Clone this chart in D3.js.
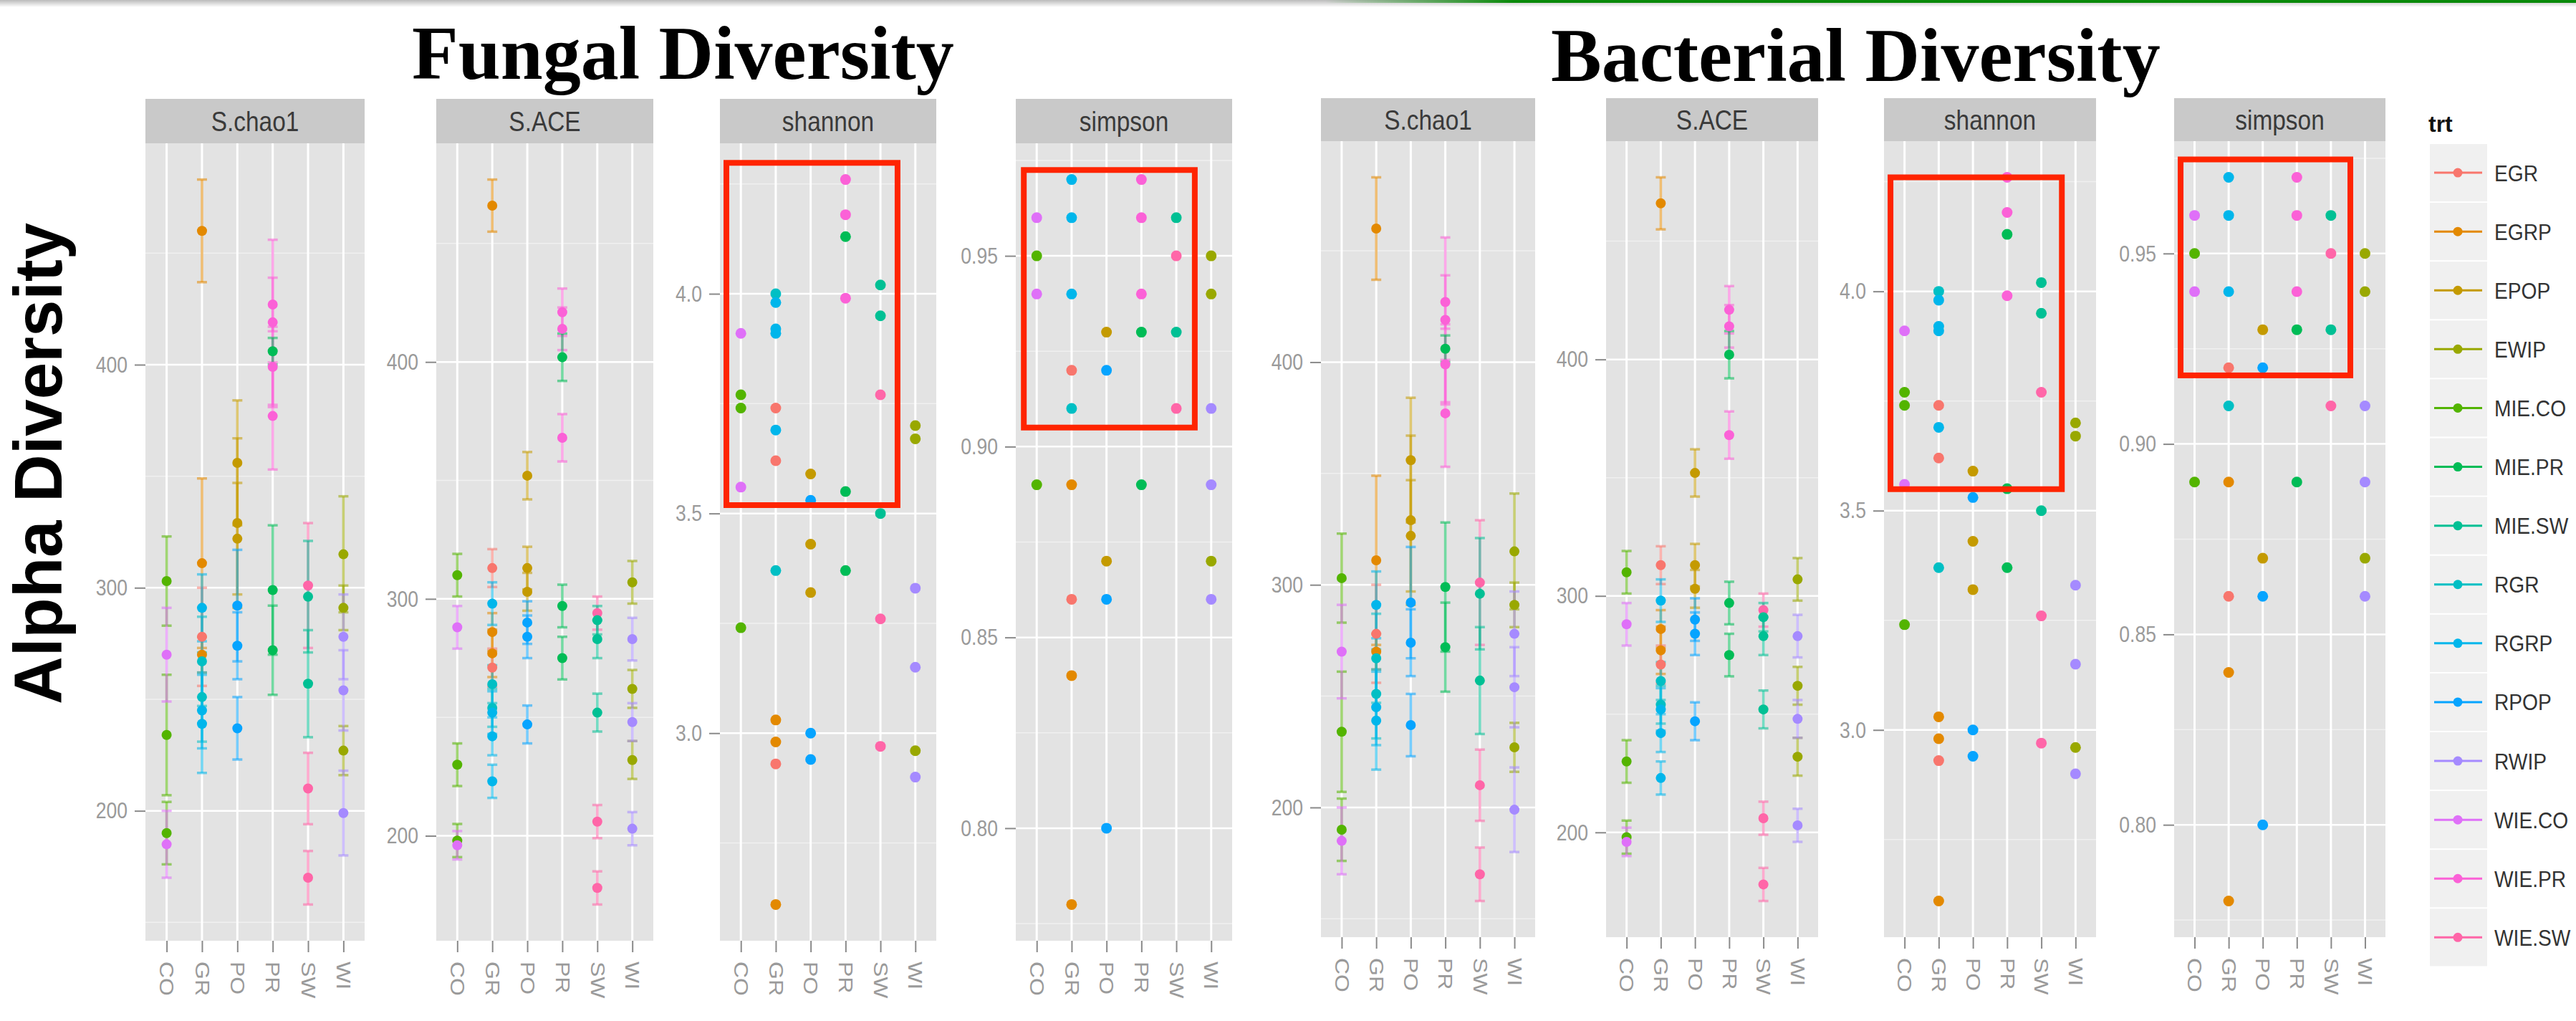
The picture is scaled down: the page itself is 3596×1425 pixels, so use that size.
<!DOCTYPE html>
<html><head><meta charset="utf-8">
<script src="https://cdn.jsdelivr.net/npm/d3@7"></script>
<style>body{margin:0;background:#fff}svg{display:block}</style>
</head><body>
<svg id="c" width="3596" height="1425"></svg>
<script>
// ---------------- DATA ----------------
const sites = ["CO","GR","PO","PR","SW","WI"];
const treatments = ["EGR","EGRP","EPOP","EWIP","MIE.CO","MIE.PR","MIE.SW","RGR","RGRP","RPOP","RWIP","WIE.CO","WIE.PR","WIE.SW"];
const trtColors = ["#F8766D","#E38900","#C49A00","#99A800","#53B400","#00BC56","#00C094","#00BFC4","#00B6EB","#06A4FF","#A58AFF","#DF70F8","#FB61D7","#FF66A8"];
const metrics = ["S.chao1","S.ACE","shannon","simpson"];

// [site, treatment, mean, error]
const chao1 = [
  ["CO","MIE.CO",303,20],["CO","MIE.CO",234,27],["CO","MIE.CO",190,14],
  ["CO","WIE.CO",270,21],["CO","WIE.CO",185,15],
  ["GR","EGRP",460,23],["GR","EGRP",311,38],["GR","EGRP",270,8],
  ["GR","EGR",278,22],
  ["GR","RGR",267,20],["GR","RGR",251,20],
  ["GR","RGRP",291,15],["GR","RGRP",245,17],["GR","RGRP",239,22],
  ["PO","EPOP",356,28],["PO","EPOP",329,38],["PO","EPOP",322,25],
  ["PO","RPOP",292,25],["PO","RPOP",274,15],["PO","RPOP",237,14],
  ["PR","WIE.PR",427,12],["PR","WIE.PR",419,37],["PR","WIE.PR",399,18],["PR","WIE.PR",377,24],
  ["PR","MIE.PR",406,6],["PR","MIE.PR",299,29],["PR","MIE.PR",272,20],
  ["SW","WIE.SW",301,28],["SW","WIE.SW",210,16],["SW","WIE.SW",170,12],
  ["SW","MIE.SW",296,25],["SW","MIE.SW",257,24],
  ["WI","EWIP",315,26],["WI","EWIP",291,10],["WI","EWIP",227,11],
  ["WI","RWIP",278,19],["WI","RWIP",254,18],["WI","RWIP",199,19]
];
const ace = [
  ["CO","MIE.CO",310,9],["CO","MIE.CO",230,9],["CO","MIE.CO",198,7],
  ["CO","WIE.CO",288,9],["CO","WIE.CO",196,6],
  ["GR","EGRP",466,11],["GR","EGRP",286,8],["GR","EGRP",277,10],
  ["GR","EGR",313,8],["GR","EGR",271,8],
  ["GR","RGR",264,8],["GR","RGR",254,8],
  ["GR","RGRP",298,9],["GR","RGRP",252,9],["GR","RGRP",242,8],["GR","RGRP",223,7],
  ["PO","EPOP",352,10],["PO","EPOP",313,9],["PO","EPOP",303,8],
  ["PO","RPOP",290,9],["PO","RPOP",284,9],["PO","RPOP",247,8],
  ["PR","WIE.PR",421,10],["PR","WIE.PR",414,9],["PR","WIE.PR",368,10],
  ["PR","MIE.PR",402,10],["PR","MIE.PR",297,9],["PR","MIE.PR",275,9],
  ["SW","WIE.SW",294,7],["SW","WIE.SW",206,7],["SW","WIE.SW",178,7],
  ["SW","MIE.SW",291,6],["SW","MIE.SW",283,8],["SW","MIE.SW",252,8],
  ["WI","EWIP",307,9],["WI","EWIP",262,8],["WI","EWIP",232,8],
  ["WI","RWIP",283,9],["WI","RWIP",248,8],["WI","RWIP",203,7]
];
// [site, treatment, value]
const shannon = [
  ["CO","WIE.CO",3.91],["CO","MIE.CO",3.77],["CO","MIE.CO",3.74],["CO","WIE.CO",3.56],["CO","MIE.CO",3.24],
  ["GR","RGR",4.00],["GR","RGRP",3.98],["GR","RGRP",3.92],["GR","RGRP",3.91],["GR","EGR",3.74],["GR","RGRP",3.69],
  ["GR","EGR",3.62],["GR","RGR",3.37],["GR","EGRP",3.03],["GR","EGRP",2.98],["GR","EGR",2.93],["GR","EGRP",2.61],
  ["PO","EPOP",3.59],["PO","RPOP",3.53],["PO","EPOP",3.43],["PO","EPOP",3.32],["PO","RPOP",3.00],["PO","RPOP",2.94],
  ["PR","WIE.PR",4.26],["PR","WIE.PR",4.18],["PR","MIE.PR",4.13],["PR","WIE.PR",3.99],["PR","MIE.PR",3.55],["PR","MIE.PR",3.37],
  ["SW","MIE.SW",4.02],["SW","MIE.SW",3.95],["SW","WIE.SW",3.77],["SW","MIE.SW",3.50],["SW","WIE.SW",3.26],["SW","WIE.SW",2.97],
  ["WI","EWIP",3.70],["WI","EWIP",3.67],["WI","RWIP",3.33],["WI","RWIP",3.15],["WI","EWIP",2.96],["WI","RWIP",2.90]
];
const simpson = [
  ["CO","WIE.CO",0.96],["CO","MIE.CO",0.95],["CO","WIE.CO",0.94],["CO","MIE.CO",0.89],
  ["GR","RGRP",0.97],["GR","RGRP",0.96],["GR","RGRP",0.94],["GR","EGR",0.92],["GR","RGR",0.91],
  ["GR","EGRP",0.89],["GR","EGR",0.86],["GR","EGRP",0.84],["GR","EGRP",0.78],
  ["PO","EPOP",0.93],["PO","RPOP",0.92],["PO","EPOP",0.87],["PO","RPOP",0.86],["PO","RPOP",0.80],
  ["PR","WIE.PR",0.97],["PR","WIE.PR",0.96],["PR","WIE.PR",0.94],["PR","MIE.PR",0.93],["PR","MIE.PR",0.89],
  ["SW","MIE.SW",0.96],["SW","WIE.SW",0.95],["SW","MIE.SW",0.93],["SW","WIE.SW",0.91],
  ["WI","EWIP",0.95],["WI","EWIP",0.94],["WI","RWIP",0.91],["WI","RWIP",0.89],["WI","EWIP",0.87],["WI","RWIP",0.86]
];
const chao1Ticks = [200,300,400];
const aceTicks = [200,300,400];
const shannonTicks = [3.0,3.5,4.0];
const simpsonTicks = [0.80,0.85,0.90,0.95];

// highlight boxes: [panel index, site-index from, site-index to, value from, value to]
const fungalBoxes = [[2,-0.415,4.49,3.519,4.298],[3,-0.37,4.53,0.905,0.9725]];
const bacterialBoxes = [[2,-0.41,4.60,3.549,4.26],[3,-0.41,4.57,0.918,0.9747]];

const groupTitles = ["Fungal Diversity","Bacterial Diversity"];
const yTitle = "Alpha Diversity";
const legendTitle = "trt";

// ---------------- DRAW ----------------
const svg = d3.select("#c");
const color = d3.scaleOrdinal(treatments, trtColors);
const SANS = "'Liberation Sans', Arial, Helvetica, sans-serif";
const SERIF = "'Liberation Serif', 'Times New Roman', Times, serif";

// slide header line
const defs = svg.append("defs");
const gr = defs.append("linearGradient").attr("id","gline");
gr.append("stop").attr("offset","0").attr("stop-color","#0a8a0a").attr("stop-opacity",0);
gr.append("stop").attr("offset","0.15").attr("stop-color","#0a8a0a").attr("stop-opacity",1);
gr.append("stop").attr("offset","1").attr("stop-color","#0a8a0a").attr("stop-opacity",1);
const sh = defs.append("linearGradient").attr("id","gshadow").attr("x1",0).attr("y1",0).attr("x2",0).attr("y2",1);
sh.append("stop").attr("offset","0").attr("stop-color","#bbb");
sh.append("stop").attr("offset","1").attr("stop-color","#fff");
svg.append("rect").attr("x",0).attr("y",0).attr("width",3596).attr("height",10).attr("fill","url(#gshadow)");
svg.append("rect").attr("x",1850).attr("y",0).attr("width",1746).attr("height",4).attr("fill","url(#gline)");

function drawPanel(p) {
  const g = svg.append("g");
  const {x0,x1,y0,y1,stripTop,title,data,ticks,fmt,hasErr,ptR} = p;
  const lo = d3.min(data, d => hasErr ? d[2]-d[3] : d[2]);
  const hi = d3.max(data, d => hasErr ? d[2]+d[3] : d[2]);
  const pad = (hi-lo)*0.05;
  const y = d3.scaleLinear().domain([lo-pad, hi+pad]).range([y1, y0]);
  const x = d3.scalePoint().domain(sites).range([x0, x1]).padding(0.6);
  const xi = d3.scaleLinear().domain([-0.6, sites.length-1+0.6]).range([x0, x1]);

  // strip
  g.append("rect").attr("x",x0).attr("y",stripTop).attr("width",x1-x0).attr("height",y0-stripTop).attr("fill","#c9c9c9");
  g.append("text").attr("transform",`translate(${(x0+x1)/2},${(stripTop+y0)/2}) scale(0.88,1)`)
    .attr("dy","0.36em").attr("text-anchor","middle").attr("font-family",SANS).attr("font-size",38)
    .attr("fill","#3a3a3a").text(title);
  // panel bg
  g.append("rect").attr("x",x0).attr("y",y0).attr("width",x1-x0).attr("height",y1-y0).attr("fill","#e3e3e3");
  // minor grid
  const step = ticks[1]-ticks[0];
  const minor = [];
  for (let k = -1; k <= ticks.length; k++) {
    const v = ticks[0] + (k+0.5)*step;
    if (v > y.domain()[0] && v < y.domain()[1]) minor.push(v);
  }
  g.selectAll(".mn").data(minor).join("line").attr("x1",x0).attr("x2",x1)
    .attr("y1",d=>y(d)).attr("y2",d=>y(d)).attr("stroke","#f0f0f0").attr("stroke-width",1.5);
  // major grid
  g.selectAll(".mj").data(ticks).join("line").attr("x1",x0).attr("x2",x1)
    .attr("y1",d=>y(d)).attr("y2",d=>y(d)).attr("stroke","#fff").attr("stroke-width",2.5);
  g.selectAll(".vx").data(sites).join("line").attr("x1",d=>x(d)).attr("x2",d=>x(d))
    .attr("y1",y0).attr("y2",y1).attr("stroke","#fff").attr("stroke-width",3);

  // axes
  const ya = g.append("g").attr("transform",`translate(${x0},0)`)
    .call(d3.axisLeft(y).tickValues(ticks).tickFormat(fmt).tickSize(15).tickPadding(10));
  ya.select(".domain").remove();
  ya.selectAll("line").attr("stroke","#8a8a8a").attr("stroke-width",2);
  ya.selectAll("text").attr("fill","#9a9a9a").attr("font-size",32).attr("font-family",SANS)
    .attr("x", -25/0.83).attr("transform","scale(0.83,1)");
  const xa = g.append("g").attr("transform",`translate(0,${y1})`)
    .call(d3.axisBottom(x).tickSize(16).tickPadding(10));
  xa.select(".domain").remove();
  xa.selectAll("line").attr("stroke","#8a8a8a").attr("stroke-width",2);
  xa.selectAll("text").attr("fill","#9a9a9a").attr("font-size",32).attr("font-family",SANS)
    .attr("text-anchor","start").attr("x",29).attr("y",0).attr("dy","0.36em")
    .attr("transform","scale(0.85,1) rotate(90)");

  // error bars
  if (hasErr) {
    const eb = g.append("g").attr("stroke-opacity",0.55).attr("stroke-width",3.5);
    data.forEach(d => {
      const cx = x(d[0]), c = color(d[1]);
      const ya1 = y(d[2]-d[3]), ya2 = y(d[2]+d[3]);
      eb.append("line").attr("x1",cx).attr("x2",cx).attr("y1",ya1).attr("y2",ya2).attr("stroke",c);
      eb.append("line").attr("x1",cx-7).attr("x2",cx+7).attr("y1",ya1).attr("y2",ya1).attr("stroke",c);
      eb.append("line").attr("x1",cx-7).attr("x2",cx+7).attr("y1",ya2).attr("y2",ya2).attr("stroke",c);
    });
  }
  // points
  g.append("g").selectAll("circle").data(data).join("circle")
    .attr("cx",d=>x(d[0])).attr("cy",d=>y(d[2])).attr("r",ptR).attr("fill",d=>color(d[1]));

  return {x, xi, y};
}

function drawHalf(cfg) {
  const specs = [
    {title:metrics[0], data:chao1, ticks:chao1Ticks, fmt:d3.format("d"), hasErr:true, ptR:7},
    {title:metrics[1], data:ace, ticks:aceTicks, fmt:d3.format("d"), hasErr:true, ptR:7},
    {title:metrics[2], data:shannon, ticks:shannonTicks, fmt:d3.format(".1f"), hasErr:false, ptR:7.5},
    {title:metrics[3], data:simpson, ticks:simpsonTicks, fmt:d3.format(".2f"), hasErr:false, ptR:7.5}
  ];
  const scales = specs.map((s,i) => drawPanel(Object.assign({}, s, {
    x0: cfg.xs[i][0], x1: cfg.xs[i][1], y0: cfg.y0, y1: cfg.y1, stripTop: cfg.stripTop
  })));
  cfg.boxes.forEach(b => {
    const sc = scales[b[0]];
    const bx0 = sc.xi(b[1]), bx1 = sc.xi(b[2]);
    const by0 = sc.y(b[4]), by1 = sc.y(b[3]);
    svg.append("rect").attr("x",bx0).attr("y",by0).attr("width",bx1-bx0).attr("height",by1-by0)
      .attr("fill","none").attr("stroke","#ff2400").attr("stroke-width",8);
  });
  svg.append("text").attr("x",cfg.titleX).attr("y",cfg.titleY).attr("text-anchor","start")
    .attr("font-family",SERIF).attr("font-weight","bold").attr("font-size",106).attr("fill","#000")
    .text(cfg.title);
}

drawHalf({title:groupTitles[0], titleX:575, titleY:110,
  xs:[[203,509],[609,912],[1005,1307],[1418,1720]], stripTop:138, y0:200, y1:1313, boxes:fungalBoxes});
drawHalf({title:groupTitles[1], titleX:2165, titleY:113,
  xs:[[1844,2143],[2242,2538],[2630,2926],[3035,3330]], stripTop:137, y0:197, y1:1308, boxes:bacterialBoxes});

// y title
svg.append("text").attr("transform","translate(86,647) rotate(-90)").attr("text-anchor","middle")
  .attr("font-family",SANS).attr("font-weight","bold").attr("font-size",94)
  .attr("textLength",672).attr("lengthAdjust","spacingAndGlyphs").attr("fill","#000").text(yTitle);

// legend
const lg = svg.append("g");
lg.append("text").attr("x",3390).attr("y",184).attr("font-family",SANS).attr("font-weight","bold")
  .attr("font-size",32).attr("fill","#111").text(legendTitle);
const ly = d3.scaleBand().domain(treatments).range([200, 200 + 82.1*treatments.length]).paddingInner(0.025).paddingOuter(0.0125);
treatments.forEach(t => {
  const cy = ly(t) + ly.bandwidth()/2;
  lg.append("rect").attr("x",3392).attr("y",ly(t)).attr("width",80).attr("height",ly.bandwidth()).attr("fill","#f0f0f0");
  lg.append("line").attr("x1",3398).attr("x2",3465).attr("y1",cy).attr("y2",cy).attr("stroke",color(t)).attr("stroke-width",3);
  lg.append("circle").attr("cx",3431).attr("cy",cy).attr("r",6.5).attr("fill",color(t));
  lg.append("text").attr("transform",`translate(3482,${cy}) scale(0.88,1)`).attr("dy","0.36em")
    .attr("font-family",SANS).attr("font-size",32).attr("fill","#333").text(t);
});
</script>
</body></html>
